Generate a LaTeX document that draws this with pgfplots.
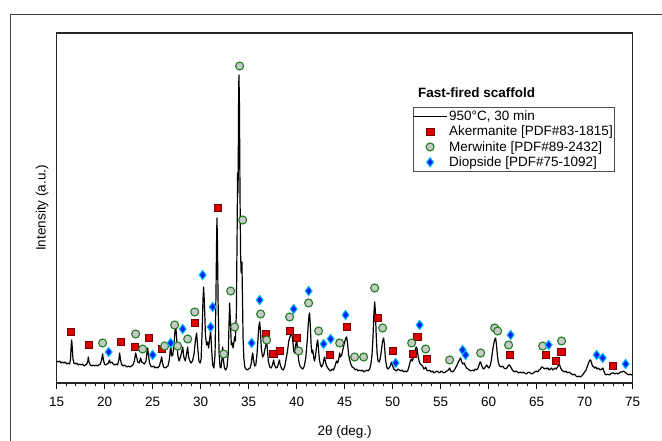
\documentclass[border=0pt]{standalone}
\usepackage{fontspec}
\setmainfont{Liberation Sans}
\usepackage{pgfplots}
\pgfplotsset{compat=1.18}
\definecolor{akr}{RGB}{222,0,0}
\definecolor{akrd}{RGB}{120,0,0}
\definecolor{mwg}{RGB}{30,125,30}
\definecolor{mwf}{RGB}{200,200,200}
\definecolor{dib}{RGB}{0,40,235}
\definecolor{dic}{RGB}{0,185,255}
\begin{document}
\begin{tikzpicture}[x=1pt,y=1pt]
\path[use as bounding box] (0,0) rectangle (662,441);
\draw[line width=1pt, black!75] (10,-2) -- (10,426) -- (664,426);
\begin{axis}[
  at={(59,58)}, anchor=south west,
  scale only axis, width=576pt, height=350pt,
  xmin=15, xmax=75, ymin=0, ymax=350,
  xtick={15,20,...,75}, minor x tick num=4,
  ytick=\empty,
  xtick pos=left, tick align=outside,
  major tick length=6pt, minor tick length=3.5pt,
  axis line style={line width=1.1pt, black!85},
  every tick/.style={black, line width=0.8pt},
  tick label style={font=\fontsize{13.5}{16}\selectfont},
  xticklabel style={yshift=-5pt},
  /pgf/number format/assume math mode=true,
  xlabel={2θ (deg.)}, ylabel={Intensity (a.u.)},
  every axis x label/.style={at={(axis description cs:0.5,-0.14)}, anchor=center, font=\fontsize{13.5}{16}\selectfont},
  every axis y label/.style={at={(axis description cs:-0.025,0.5)}, rotate=90, anchor=center, font=\fontsize{13.5}{16}\selectfont},
  legend cell align=left,
  legend style={at={(axis description cs:0.618,0.789)}, anchor=north west, draw=black!70, line width=0.8pt, inner xsep=0pt, inner ysep=1.5pt, row sep=0pt, font=\fontsize{13.5}{16}\selectfont},
  legend image code/.code={\draw[mark repeat=2, mark phase=2, #1] plot coordinates {(0pt,0pt) (16.5pt,0pt) (33pt,0pt)};},
]
\addplot[black, line width=1.2pt, line join=round] coordinates {
(15.0,22)(15.15,21)(15.3,22)(15.45,20)(15.6,21)(15.75,20)(15.9,21)(16.05,19)(16.2,20)(16.35,19)
(16.45,24)(16.52,38)(16.57,43)(16.63,35)(16.7,24)(16.8,20)(16.95,19)(17.1,20)(17.25,18)(17.4,19)
(17.55,18)(17.7,19)(17.85,17)(18.0,18)(18.15,19)(18.25,22)(18.3,26)(18.37,21)(18.5,18)(18.65,17)
(18.8,18)(18.95,17)(19.1,18)(19.25,17)(19.4,18)(19.55,19)(19.68,23)(19.79,29)(19.88,23)(19.98,19)
(20.1,18)(20.25,19)(20.4,20)(20.5,23)(20.6,20)(20.75,21)(20.9,19)(21.05,18)(21.2,19)(21.35,18)
(21.48,23)(21.56,30)(21.64,24)(21.75,19)(21.9,17)(22.05,18)(22.2,17)(22.35,16)(22.5,17)(22.65,16)
(22.8,17)(22.95,18)(23.1,22)(23.23,30)(23.33,26)(23.45,21)(23.6,20)(23.75,25)(23.85,21)(24.0,20)
(24.15,19)(24.3,22)(24.42,31)(24.48,35)(24.56,28)(24.68,20)(24.8,17)(24.95,16)(25.1,17)(25.25,15)
(25.4,16)(25.55,15)(25.7,17)(25.85,22)(25.94,26)(26.03,20)(26.15,16)(26.3,15)(26.45,16)(26.6,17)
(26.75,24)(26.88,38)(26.98,27)(27.1,28)(27.25,42)(27.35,54)(27.42,56)(27.52,42)(27.62,28)(27.75,22)
(27.9,26)(28.0,30)(28.13,36)(28.25,26)(28.4,22)(28.55,30)(28.65,36)(28.75,26)(28.88,22)(29.0,20)
(29.15,22)(29.3,28)(29.45,42)(29.58,50)(29.7,35)(29.82,22)(29.95,20)(30.05,24)(30.15,50)(30.24,82)
(30.31,96)(30.4,78)(30.5,48)(30.62,38)(30.73,41)(30.83,35)(30.95,45)(31.04,53)(31.13,36)(31.25,18)
(31.38,15)(31.5,28)(31.6,90)(31.66,140)(31.70,165)(31.75,140)(31.82,80)(31.92,30)(32.02,16)(32.12,15)
(32.22,24)(32.29,36)(32.36,24)(32.48,15)(32.62,13)(32.75,16)(32.88,30)(32.96,60)(33.02,80)(33.1,62)
(33.2,38)(33.3,40)(33.38,35)(33.46,40)(33.54,46)(33.62,42)(33.72,70)(33.8,150)(33.85,210)(33.9,190)
(33.96,290)(33.99,308)(34.04,280)(34.1,190)(34.16,130)(34.22,110)(34.26,115)(34.3,121)(34.35,90)(34.42,45)
(34.5,25)(34.6,16)(34.72,14)(34.85,13)(35.0,14)(35.15,15)(35.28,20)(35.36,27)(35.42,30)(35.5,24)
(35.62,17)(35.75,18)(35.88,30)(36.0,48)(36.08,58)(36.15,61)(36.23,52)(36.32,35)(36.45,26)(36.58,28)
(36.7,34)(36.8,38)(36.88,41)(36.96,33)(37.05,22)(37.2,16)(37.35,15)(37.48,18)(37.6,23)(37.7,18)
(37.85,15)(38.0,16)(38.12,20)(38.2,23)(38.3,18)(38.45,14)(38.6,13)(38.75,16)(38.9,24)(39.05,32)
(39.18,42)(39.3,46)(39.4,49)(39.48,50)(39.58,44)(39.7,32)(39.8,30)(39.9,38)(40.0,43)(40.1,34)
(40.22,22)(40.35,17)(40.5,15)(40.65,14)(40.8,17)(40.95,25)(41.1,42)(41.22,60)(41.3,68)(41.35,70)
(41.42,58)(41.52,36)(41.6,30)(41.67,33)(41.75,28)(41.85,22)(41.95,26)(42.05,34)(42.12,40)(42.19,43)
(42.26,36)(42.36,24)(42.48,18)(42.6,16)(42.75,19)(42.85,24)(42.92,26)(43.0,21)(43.12,17)(43.25,15)
(43.4,13)(43.55,12)(43.7,14)(43.85,13)(44.0,17)(44.15,22)(44.28,20)(44.4,25)(44.48,30)(44.56,26)
(44.7,28)(44.85,35)(45.0,41)(45.12,45)(45.21,46)(45.3,40)(45.42,28)(45.55,22)(45.68,18)(45.8,16)
(45.95,15)(46.1,13)(46.25,14)(46.4,12)(46.55,13)(46.7,12)(46.85,13)(47.0,11)(47.15,12)(47.3,13)
(47.45,12)(47.6,14)(47.72,18)(47.85,28)(47.95,45)(48.05,70)(48.13,81)(48.2,72)(48.28,50)(48.38,30)
(48.48,22)(48.6,21)(48.72,25)(48.85,34)(48.95,42)(49.06,45)(49.15,38)(49.25,24)(49.38,16)(49.5,14)
(49.62,15)(49.75,17)(49.85,20)(49.92,21)(50.0,17)(50.12,14)(50.25,13)(50.4,12)(50.55,14)(50.7,13)
(50.85,12)(51.0,13)(51.15,11)(51.3,12)(51.45,11)(51.6,13)(51.72,17)(51.85,22)(51.95,24)(52.05,22)
(52.15,25)(52.25,28)(52.35,33)(52.45,36)(52.55,34)(52.65,27)(52.75,22)(52.88,19)(53.0,18)(53.12,17)
(53.25,14)(53.38,15)(53.44,16)(53.55,13)(53.7,12)(53.85,13)(54.0,11)(54.15,12)(54.3,10)(54.45,11)
(54.6,12)(54.75,11)(54.9,10)(55.05,12)(55.2,11)(55.35,10)(55.5,11)(55.65,12)(55.8,13)(55.94,15)
(56.05,12)(56.2,11)(56.35,12)(56.5,14)(56.65,17)(56.8,20)(56.95,23)(57.08,25)(57.2,21)(57.32,19)
(57.45,20)(57.58,17)(57.7,15)(57.85,14)(58.0,13)(58.15,12)(58.3,13)(58.45,12)(58.6,14)(58.75,13)
(58.9,15)(59.0,18)(59.1,21)(59.17,21)(59.25,18)(59.38,15)(59.5,14)(59.65,16)(59.8,18)(59.92,16)
(60.05,15)(60.18,18)(60.3,24)(60.42,33)(60.55,40)(60.65,44)(60.73,45)(60.82,38)(60.92,27)(61.02,20)
(61.15,17)(61.3,16)(61.45,17)(61.6,15)(61.75,14)(61.9,15)(62.02,17)(62.12,18)(62.19,18)(62.3,16)
(62.42,14)(62.55,12)(62.7,11)(62.85,12)(63.0,11)(63.15,10)(63.3,11)(63.45,10)(63.6,11)(63.75,10)
(63.9,9)(64.05,10)(64.2,11)(64.35,10)(64.5,9)(64.65,10)(64.8,11)(64.95,12)(65.1,11)(65.25,13)
(65.4,14)(65.52,16)(65.6,16)(65.7,15)(65.82,14)(65.94,15)(66.05,14)(66.18,15)(66.3,13)(66.42,14)
(66.55,15)(66.68,13)(66.8,14)(66.92,15)(67.05,14)(67.18,16)(67.3,18)(67.4,18)(67.5,15)(67.62,13)
(67.75,12)(67.9,11)(68.05,12)(68.2,10)(68.35,11)(68.5,10)(68.65,9)(68.8,8)(68.95,9)(69.1,7)
(69.25,6)(69.4,7)(69.55,6)(69.7,7)(69.85,9)(70.0,11)(70.15,13)(70.3,17)(70.45,21)(70.55,23)
(70.63,23)(70.72,20)(70.82,17)(70.95,16)(71.05,15)(71.15,16)(71.28,14)(71.4,15)(71.52,14)(71.65,13)
(71.78,14)(71.9,15)(72.0,12)(72.12,9)(72.25,8)(72.4,9)(72.55,8)(72.7,9)(72.85,10)(73.0,10)
(73.15,9)(73.3,10)(73.45,9)(73.6,10)(73.75,11)(73.9,11)(74.05,12)(74.17,11)(74.3,10)(74.45,9)
(74.6,8)(74.75,9)(74.9,8)(75.0,8)
};
\addlegendentry{950°C, 30 min}
\addplot[only marks, mark=square*, mark size=3.8pt, mark options={fill=akr, draw=akrd, line width=0.6pt}] coordinates {
(16.46,51)(18.33,38)(21.67,41)(23.13,36)(24.58,45)(25.94,34)(29.38,60)(31.77,175)(36.77,49)(37.6,29)
(38.23,32)(39.27,52)(40.0,45)(43.44,28)(45.21,56)(48.44,65)(50.0,32)(52.08,29)(52.6,46)(53.54,24)
(62.19,28)(65.94,28)(66.98,22)(67.6,31)(72.92,17)
};
\addlegendentry{Akermanite [PDF\#83-1815]}
\addplot[only marks, mark=*, mark size=4pt, mark options={fill=mwf, draw=mwg, line width=1.1pt}] coordinates {
(19.79,40)(23.23,49)(23.96,34)(26.25,37)(27.29,58)(27.6,37)(28.65,44)(29.38,71)(32.4,29)(33.13,92)
(33.54,56)(34.06,317)(34.38,163)(36.25,69)(36.88,43)(39.27,66)(40.21,32)(41.25,80)(42.29,52)(44.48,40)
(46.04,26)(46.98,26)(48.13,95)(48.96,55)(51.98,40)(53.44,34)(55.94,23)(59.17,30)(60.63,55)(60.94,52)
(62.08,38)(65.63,37)(67.6,42)
};
\addlegendentry{Merwinite [PDF\#89-2432]}
\addplot[only marks, mark=diamond*, mark size=4.6pt, mark options={fill=dib, draw=dic, line width=1pt}] coordinates {
(20.42,31)(25.0,28)(26.88,40)(28.13,54)(30.21,108)(31.04,56)(31.25,76)(35.31,40)(36.15,83)(39.69,74)
(41.25,92)(42.81,39)(43.54,44)(45.1,68)(50.31,20)(52.81,58)(57.29,33)(57.6,28)(62.29,48)(66.25,38)
(71.25,28)(71.88,25)(74.27,19)
};
\addlegendentry{Diopside [PDF\#75-1092]}
\node[anchor=west, font=\bfseries\fontsize{13.5}{16}\selectfont] at (axis description cs:0.6215,0.829) {Fast-fired scaffold};
\end{axis}
\end{tikzpicture}
\end{document}
